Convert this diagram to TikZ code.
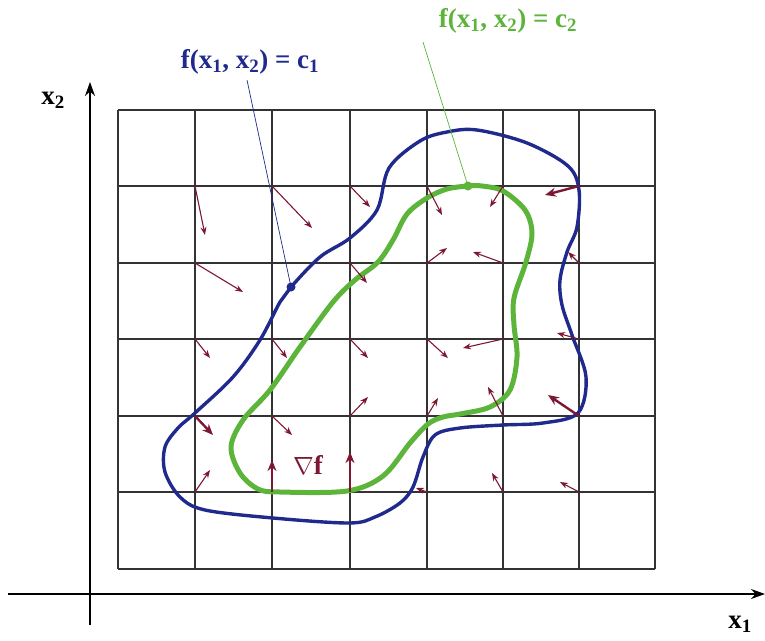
\documentclass[tikz,border=0pt]{standalone}
\usepackage{fontspec}
\setmainfont{Liberation Serif}
\usetikzlibrary{arrows.meta}
\definecolor{cblue}{HTML}{1F2A8C}
\definecolor{cgreen}{HTML}{5DB43B}
\definecolor{cred}{HTML}{7E1732}
\definecolor{cgrid}{HTML}{333333}
\begin{document}
\begin{tikzpicture}[x=1pt,y=-1pt,
  gridline/.style={cgrid,line width=1.2pt},
  axisline/.style={black,line width=1.6pt,-{Stealth[length=14pt,width=10pt]}},
  grad/.style={cred,line width=1.1pt,-{Stealth[length=8pt,width=6pt]}},
  gradthick/.style={cred,line width=2.4pt,-{Stealth[length=11pt,width=9pt]}},
  lbl/.style={font=\fontsize{27}{30}\selectfont\bfseries,inner sep=0pt},
  leader/.style={line width=0.7pt}]
\useasboundingbox (0,0) rectangle (765,640);
% grid
\foreach \xx in {118,195,272,350,427,503,579,655} {
  \draw[gridline] (\xx,110) -- (\xx,569);
}
\foreach \yy in {110,186,263,339,416,492,569} {
  \draw[gridline] (118,\yy) -- (655,\yy);
}
% axes
\coordinate (xs) at (8,594);
\coordinate (xe) at (765,594);
\coordinate (ys) at (90,625);
\coordinate (ye) at (90,82);
\draw[axisline] (xs) -- (xe);
\draw[axisline] (ys) -- (ye);
\node[lbl] (lx1) at (740,624) {x\textsubscript{1}};
\node[lbl] (lx2) at (53,100) {x\textsubscript{2}};
% blue curve
\draw[cblue,line width=3.4pt] plot[smooth cycle,tension=0.55] coordinates {
(389,168)(420,141)(447,132)(477,130)(527,143)(568,166)(579,190)(577,227)(567,252)
(560,280)(562,305)(572,335)(586,377)(578,413)(543,423)(503,425)(460,428)(435,435)
(423,457)(413,487)(400,503)(375,517)(349,523)(273,518)(205,510)(180,497)(165,472)
(165,447)(178,428)(195,413)(233,377)(260,340)(280,302)(291,287)(320,257)(350,238)(377,210)};
% green curve
\draw[cgreen,line width=5pt] plot[smooth cycle,tension=0.55] coordinates {
(468,186)(482,186)(503,191)(525,210)(532,233)(526,262)(514,298)(514,325)(517,357)
(510,390)(490,407)(460,414)(443,417)(428,424)(410,443)(383,476)(347,491)(280,492)
(258,489)(240,473)(231,447)(243,420)(270,390)(300,347)(333,302)(355,280)(378,262)
(393,240)(407,214)(427,198)(447,189)};
% gradient arrows (thin)
\foreach \sx/\sy/\ex/\ey in {
195/186/205/235, 195/263/243/292, 272/186/312/228, 350/186/370/207,
427/186/442/215, 503/186/490/207, 427/263/447/248, 350/263/367/283,
503/263/473/252, 579/263/568/252, 195/339/210/358, 272/339/287/358,
350/339/368/358, 427/339/448/358, 503/339/463/348, 579/339/557/333,
272/416/292/435, 350/416/368/397, 427/416/438/398, 503/416/488/387,
195/492/210/470, 427/492/416/488, 503/492/492/473, 579/492/560/482} {
  \draw[grad] (\sx,\sy) -- (\ex,\ey);
}
% gradient arrows (thick)
\foreach \sx/\sy/\ex/\ey in {
579/186/545/195, 195/416/213/435, 579/416/548/395, 272/492/272/460, 350/492/350/452} {
  \draw[gradthick] (\sx,\sy) -- (\ex,\ey);
}
\node[cred,font=\fontsize{27}{30}\selectfont\bfseries,inner sep=0pt] (nab) at (308,465) {$\nabla$f};
% labels and leaders
\node[lbl,text=cblue] (c1) at (250,62) {f(x\textsubscript{1}, x\textsubscript{2}) = c\textsubscript{1}};
\node[lbl,text=cgreen] (c2) at (508,21) {f(x\textsubscript{1}, x\textsubscript{2}) = c\textsubscript{2}};
\coordinate (d1) at (291,287);
\coordinate (d2) at (468,186);
\coordinate (l1) at (247,80);
\coordinate (l2) at (423,42);
\draw[cblue,leader] (l1) -- (d1);
\draw[cgreen,leader] (l2) -- (d2);
\fill[cblue] (d1) circle (4.5pt);
\fill[cgreen] (d2) circle (4.5pt);
\end{tikzpicture}
\end{document}
